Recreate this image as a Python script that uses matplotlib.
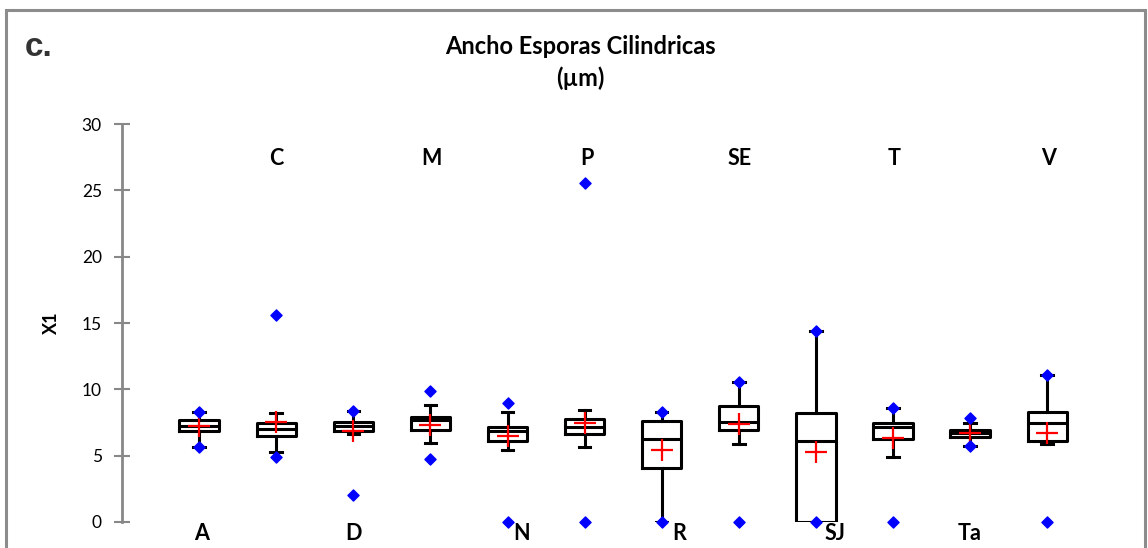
import numpy as np
import matplotlib
matplotlib.use("Agg")
import matplotlib.pyplot as plt
from matplotlib.patches import Rectangle

# sites and box statistics (um)
sites = ["A", "C", "D", "M", "N", "P", "R", "SE", "SJ", "T", "Ta", "V"]
q1 = [6.86, 6.46, 6.83, 6.91, 6.08, 6.63, 4.05, 6.93, 0.00, 6.23, 6.41, 6.13]
median = [7.26, 6.99, 7.20, 7.69, 6.86, 7.18, 6.25, 7.54, 6.13, 7.18, 6.68, 7.48]
q3 = [7.69, 7.48, 7.56, 7.94, 7.18, 7.76, 7.61, 8.74, 8.19, 7.44, 6.93, 8.31]
whisk_lo = [5.65, 5.25, 6.63, 5.95, 5.43, 5.63, 0.00, 5.86, 0.00, 4.90, 5.73, 5.88]
whisk_hi = [8.31, 8.24, 8.39, 8.82, 8.31, 8.44, 8.31, 10.55, 14.42, 8.61, 7.44, 11.08]
mean = [7.23, 7.56, 6.88, 7.29, 6.48, 7.44, 5.43, 7.39, 5.30, 6.31, 6.73, 6.68]
minimum = [5.65, 4.92, 2.03, 4.72, 0.00, 0.00, 0.00, 0.00, 0.00, 0.00, 5.73, 0.00]
maximum = [8.31, 15.60, 8.39, 9.90, 8.99, 25.55, 8.31, 10.55, 14.42, 8.61, 7.81, 11.08]

plt.rcParams['font.family'] = ['Lato', 'DejaVu Sans']

fig = plt.figure(figsize=(11.48, 5.48), dpi=100)
W, H = 1148, 548
ax = fig.add_axes([122 / W, (H - 522) / H, 1 - 122 / W, (522 - 124) / H])

pos = np.arange(1, len(sites) + 1)
stats = []
for i in range(len(sites)):
    stats.append(dict(med=median[i], q1=q1[i], q3=q3[i], whislo=whisk_lo[i],
                      whishi=whisk_hi[i], mean=mean[i], fliers=[]))

ax.bxp(stats, positions=pos, widths=0.51, showmeans=True, showfliers=False,
       patch_artist=False,
       boxprops=dict(color='black', linewidth=2.2),
       medianprops=dict(color='black', linewidth=2.2),
       whiskerprops=dict(color='black', linewidth=2.2),
       capprops=dict(color='black', linewidth=2.2),
       capwidths=0.15,
       meanprops=dict(marker='+', markeredgecolor='red', markersize=16,
                      markeredgewidth=1.6))

ax.scatter(pos, minimum, marker='D', s=32, color='blue', zorder=5, clip_on=False)
ax.scatter(pos, maximum, marker='D', s=32, color='blue', zorder=5, clip_on=False)

# site labels alternate below / above the plot
label_dx = [2, 0, 0, 1, 14, 2, 17, 1, 19, 1, -1, 1]
for i, s in enumerate(sites):
    y = -0.83 if i % 2 == 0 else 27.4
    ax.annotate(s, (pos[i], y), xytext=(label_dx[i], 0), textcoords='offset pixels',
                ha='center', va='center', fontsize=15.5, fontweight='bold',
                annotation_clip=False)

ax.set_xlim(0, (W - 122) / 77.1)
ax.set_ylim(0, 30)
ax.set_yticks(range(0, 31, 5))
ax.tick_params(axis='y', direction='inout', length=11, width=1.5, color='#888888',
               labelsize=12.5, pad=9)
ax.set_xticks([])
for side in ['top', 'right', 'bottom']:
    ax.spines[side].set_visible(False)
ax.spines['left'].set_color('#888888')
ax.spines['left'].set_linewidth(2)
ax.set_ylabel('X1', fontsize=13, fontweight='bold', labelpad=16)
ax.patch.set_visible(False)

fig.text(580 / W, 1 - 47 / H, 'Ancho Esporas Cilindricas', ha='center', va='center',
         fontsize=17, fontweight='bold')
fig.text(580 / W, 1 - 78 / H, '(µm)', ha='center', va='center',
         fontsize=17, fontweight='bold')
fig.text(25 / W, 1 - 48 / H, 'c.', ha='left', va='center', fontsize=24,
         fontweight='bold', family='Liberation Sans', color='#333333')

fig.patches.append(Rectangle((5.5 / W, -0.1), (1145 - 5.5) / W, 1.1 - 9.5 / H,
                             transform=fig.transFigure, fill=False,
                             edgecolor='#8c8c8c', linewidth=2.2))

fig.savefig('out.png', dpi=100)
